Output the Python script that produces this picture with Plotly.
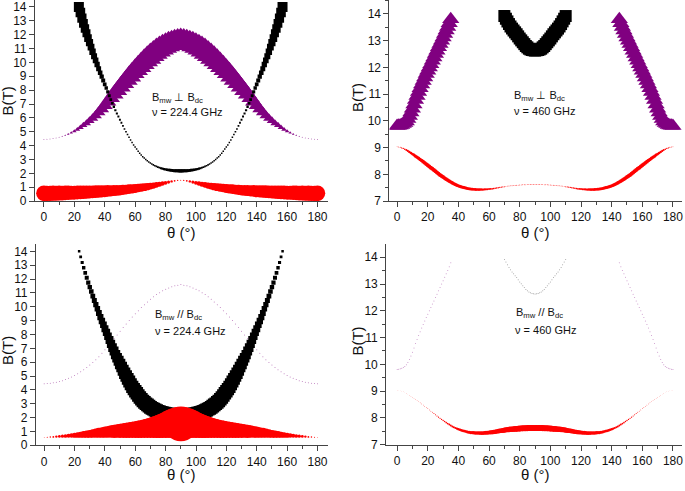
import plotly.graph_objects as go

# ---------------- data (curves are symmetric about 90 deg) ----------------
theta_even_half = list(range(0, 91, 2))      # 0..90 step 2 -> mirrored to 0..180
theta_1deg_half = list(range(0, 91))         # 0..90 step 1 -> mirrored to 0..180
theta_black_half = list(range(23, 91))       # 23..90 step 1 -> mirrored to 23..157
theta_u_half = list(range(70, 91))           # 70..90 -> 70..110
theta_out = list(range(0, 36))               # 0..35 (and mirrored 145..180)

# 224.4 GHz: black branch (V-shape) centre field, T
b224_black = [14.0, 13.6, 13.2, 12.82, 12.45, 12.1, 11.75, 11.42, 11.1, 10.77,
              10.45, 10.15, 9.85, 9.55, 9.25, 8.97, 8.7, 8.42, 8.15, 7.87,
              7.6, 7.32, 7.05, 6.8, 6.55, 6.32, 6.1, 5.87, 5.65, 5.42,
              5.2, 5.0, 4.8, 4.6, 4.4, 4.22, 4.05, 3.9, 3.75, 3.6,
              3.45, 3.32, 3.2, 3.1, 3.0, 2.91, 2.82, 2.74, 2.67, 2.61,
              2.55, 2.5, 2.45, 2.41, 2.37, 2.34, 2.31, 2.28, 2.26, 2.245,
              2.23, 2.215, 2.2, 2.195, 2.19, 2.185, 2.18, 2.18]
s224_black_perp = [10, 9.6, 9.2, 8.8, 8.4, 8.0, 7.6, 7.2, 6.8, 6.4,
                   6.0, 5.65, 5.3, 4.95, 4.6, 4.3, 4.0, 3.7, 3.4, 3.15,
                   2.9, 2.7, 2.5, 2.35, 2.2, 2.1, 2.0, 1.9, 1.8, 1.75,
                   1.7, 1.65, 1.6, 1.55,
                   1.5, 1.5, 1.5, 1.5, 1.5, 1.5, 1.5, 1.5, 1.5, 1.5, 1.5, 1.5, 1.5, 1.5,
                   1.55, 1.6, 1.65, 1.7, 1.8, 1.9, 2.0, 2.1, 2.2, 2.3,
                   2.45, 2.6, 2.7, 2.8, 2.9, 3.0, 3.05, 3.1, 3.15, 3.2]
s224_black_par = [2.5, 2.8, 3.1, 3.4, 3.7, 4.0, 4.2, 4.4, 4.6, 4.8,
                  5.0, 5.25, 5.5, 5.8, 6.1, 6.4, 6.7, 7.0, 7.3, 7.6,
                  7.9, 8.25, 8.6, 8.95, 9.3, 9.65, 10.0, 10.4, 10.7, 11.0,
                  11.25, 11.5, 11.8, 11.95, 12.1, 12.2, 12.3, 12.4,
                  12.45, 12.5, 12.5, 12.55, 12.6, 12.6, 12.65, 12.7, 12.75, 12.8,
                  12.8, 12.8, 12.85, 12.85, 12.85, 12.9, 12.9, 12.9, 12.9, 12.95,
                  12.95, 12.95, 12.95, 13, 13, 13, 13, 13, 13, 13]

# 224.4 GHz: purple branch (bell)
b224_purple = [4.45, 4.46, 4.48, 4.51, 4.55, 4.6, 4.66, 4.74, 4.83, 4.93,
               5.04, 5.17, 5.31, 5.46, 5.62, 5.79, 5.97, 6.17, 6.4, 6.64,
               6.9, 7.16, 7.43, 7.7, 7.97, 8.24, 8.5, 8.76, 9.01, 9.26,
               9.5, 9.72, 9.94, 10.15, 10.35, 10.54, 10.72, 10.88, 11.02, 11.15,
               11.26, 11.36, 11.44, 11.51, 11.56, 11.6]
s224_purple_perp = [1, 1, 1, 1, 1, 1.1, 1.3, 1.7, 2.3, 3.0,
                    4.0, 5.0, 6.0, 7.0, 8.0, 9.0, 10, 11, 12, 13,
                    14, 15, 16, 17, 18, 18.8, 19.6, 20.4, 21.1, 21.8,
                    22.4, 23, 23.5, 24, 24.4, 24.8, 25.0, 25.2, 25.3, 25.4,
                    25.5, 25.5, 25.5, 25.5, 25.5, 25.5]
s224_purple_par = [1.0] * 46

# 224.4 GHz: red branch (low field)
b224_red_perp = [0.56, 0.56, 0.56, 0.57, 0.57, 0.58, 0.58, 0.59, 0.6, 0.6,
                 0.61, 0.62, 0.63, 0.64, 0.65, 0.66, 0.67, 0.68, 0.69, 0.7,
                 0.71, 0.73, 0.74, 0.76, 0.77, 0.79, 0.81, 0.83, 0.86, 0.88,
                 0.91, 0.94, 0.97, 1.0, 1.04, 1.08, 1.12, 1.17, 1.22, 1.27,
                 1.32, 1.37, 1.42, 1.46, 1.49, 1.5]
s224_red_perp = [15.5, 15.4, 15.3, 15.2, 15.1, 15.0, 14.8, 14.6, 14.4, 14.2,
                 14.0, 13.8, 13.6, 13.4, 13.2, 13.0, 12.8, 12.6, 12.4, 12.2,
                 12.0, 11.7, 11.4, 11.1, 10.8, 10.5, 10.2, 9.9, 9.6, 9.3,
                 9.0, 8.6, 8.2, 7.8, 7.3, 6.8, 6.2, 5.6, 5.0, 4.4,
                 3.8, 3.1, 2.4, 1.8, 1.3, 1.0]
b224_red_par = [0.57, 0.58, 0.595, 0.605, 0.625, 0.64, 0.655, 0.67, 0.685, 0.705,
                0.72, 0.74, 0.76, 0.78, 0.8, 0.82, 0.845, 0.87, 0.895, 0.92,
                0.945, 0.965, 0.985, 1.005, 1.025, 1.045, 1.06, 1.08, 1.095, 1.115,
                1.13, 1.155, 1.18, 1.205, 1.23, 1.26, 1.295, 1.33, 1.37, 1.415,
                1.46, 1.515, 1.565, 1.615, 1.65, 1.545]
s224_red_par = [0.8, 1.1, 1.5, 1.8, 2.4, 2.8, 3.2, 3.7, 4.1, 4.6,
                5.1, 5.6, 6.2, 6.7, 7.3, 7.9, 8.6, 9.3, 10.0, 10.7,
                11.4, 11.9, 12.5, 13.1, 13.6, 14.2, 14.6, 15.2, 15.6, 16.2,
                16.6, 17.3, 18.0, 18.7, 19.4, 20.2, 21.2, 22.1, 23.2, 24.5,
                25.7, 27.1, 28.5, 29.9, 30.9, 34.7]

# 460 GHz
b460_purple = [9.81, 9.815, 9.83, 9.85, 9.88, 9.92, 9.98, 10.07, 10.18, 10.31,
               10.45, 10.61, 10.78, 10.93, 11.08, 11.22, 11.36, 11.49, 11.62, 11.75,
               11.87, 12.0, 12.12, 12.25, 12.37, 12.5, 12.62, 12.75, 12.87, 13.0,
               13.12, 13.25, 13.38, 13.51, 13.65, 13.8]
s460_purple_perp = [15] * 36
s460_purple_par = [1.0] * 36
b460_black = [13.92, 13.82, 13.72, 13.62, 13.53, 13.45, 13.38, 13.31, 13.24, 13.16,
              13.08, 13.01, 12.94, 12.87, 12.8, 12.75, 12.7, 12.67, 12.65, 12.64, 12.63]
s460_black_perp = [12] * 21
s460_black_par = [1.0] * 21
b460_red = [9.03, 9.025, 9.01, 8.99, 8.97, 8.94, 8.91, 8.875, 8.84, 8.8,
            8.76, 8.72, 8.68, 8.64, 8.6, 8.56, 8.52, 8.475, 8.43, 8.385,
            8.34, 8.295, 8.25, 8.205, 8.16, 8.115, 8.07, 8.025, 7.98, 7.94,
            7.9, 7.86, 7.82, 7.785, 7.75, 7.715, 7.68, 7.65, 7.62, 7.595,
            7.57, 7.55, 7.53, 7.515, 7.5, 7.485, 7.47, 7.46, 7.45, 7.445,
            7.44, 7.435, 7.43, 7.43, 7.43, 7.43, 7.43, 7.435, 7.44, 7.445,
            7.45, 7.455, 7.46, 7.47, 7.48, 7.49, 7.5, 7.51, 7.52, 7.53,
            7.54, 7.55, 7.56, 7.565, 7.57, 7.575, 7.58, 7.585, 7.59, 7.595,
            7.6, 7.605, 7.61, 7.61, 7.61, 7.615, 7.62, 7.62, 7.62, 7.62,
            7.62]
s460_red_perp = [0.8, 0.9, 1.0, 1.2, 1.4, 1.65, 1.9, 2.15, 2.4, 2.6,
                 2.8, 2.95, 3.1, 3.25, 3.4, 3.5, 3.6, 3.7, 3.8, 3.85,
                 3.9, 3.95, 4.0, 4.0, 4.0, 4.0, 4.0, 4.0, 4.0, 3.95,
                 3.9, 3.85, 3.8, 3.75, 3.7, 3.65, 3.6, 3.55, 3.5, 3.45,
                 3.4, 3.35, 3.3, 3.25, 3.2, 3.15, 3.1, 3.05, 3.0, 2.95,
                 2.9, 2.85, 2.8, 2.7, 2.6, 2.5, 2.4, 2.3, 2.2, 2.1,
                 2.0, 1.9, 1.8, 1.7, 1.6, 1.5, 1.4, 1.3, 1.2, 1.1,
                 1.0, 0.9, 0.9, 0.9, 0.9, 0.9, 0.9, 0.9, 0.9, 0.85,
                 0.85, 0.85, 0.85, 0.85, 0.8, 0.8, 0.8, 0.8, 0.8, 0.8,
                 0.8]
s460_red_par = [0.3, 0.3, 0.32, 0.34, 0.36, 0.38, 0.4, 0.42, 0.44, 0.46,
                0.48, 0.5, 0.52, 0.55, 0.58, 0.61, 0.64, 0.67, 0.7, 0.75,
                0.8, 0.85, 0.9, 0.95, 1.0, 1.05, 1.1, 1.17, 1.24, 1.32,
                1.4, 1.5, 1.6, 1.7, 1.8, 1.9, 2.0, 2.1, 2.2, 2.3,
                2.4, 2.5, 2.6, 2.7, 2.8, 2.9, 3.0, 3.1, 3.2, 3.27,
                3.35, 3.42, 3.5, 3.57, 3.65, 3.72, 3.8, 3.87, 3.95, 4.02,
                4.1, 4.2, 4.3, 4.4, 4.5, 4.6, 4.7, 4.8, 4.9, 5.0,
                5.1, 5.2, 5.3, 5.37, 5.45, 5.52, 5.6, 5.67, 5.75, 5.82,
                5.9, 5.95, 6.0, 6.05, 6.1, 6.12, 6.15, 6.17, 6.2, 6.2,
                6.2]

labels_perp = "B<sub>mw</sub> \u22a5 B<sub>dc</sub>"
labels_par = "B<sub>mw</sub> // B<sub>dc</sub>"
freq_224 = "\u03bd = 224.4 GHz"
freq_460 = "\u03bd = 460 GHz"

RED, PURPLE, BLACK = "#FF0000", "#800080", "#000000"


# ---------------- helpers: reflect the symmetric picture about 90 deg ----------------
def mirror(theta, vals):
    """theta ends at 90: reflect without repeating the 90 deg point"""
    return theta + [180 - t for t in theta[-2::-1]], vals + vals[-2::-1]


def two_sided(theta, vals):
    """branch near 0 deg and its twin near 180 deg"""
    return theta + [180 - t for t in theta[::-1]], vals + vals[::-1]


W, H = 685, 491
fig = go.Figure()


def add(ax, fn, th, b, s, color, symbol, opacity=1.0):
    xa, ya = ax
    t, y = fn(th, b)
    _, sz = fn(th, s)
    fig.add_trace(go.Scatter(x=t, y=y, mode="markers", xaxis=xa, yaxis=ya,
                             marker=dict(size=sz, color=color, symbol=symbol, opacity=opacity,
                                         line=dict(width=0)),
                             showlegend=False, hoverinfo="skip"))


# top-left: 224.4 GHz perpendicular
ax = ("x", "y")
add(ax, mirror, theta_even_half, b224_purple, s224_purple_perp, PURPLE, "triangle-up")
add(ax, mirror, theta_black_half, b224_black, s224_black_perp, BLACK, "square")
add(ax, mirror, theta_even_half, b224_red_perp, s224_red_perp, RED, "circle")

# top-right: 460 GHz perpendicular
ax = ("x2", "y2")
add(ax, two_sided, theta_out, b460_purple, s460_purple_perp, PURPLE, "triangle-up")
add(ax, mirror, theta_u_half, b460_black, s460_black_perp, BLACK, "square")
add(ax, mirror, theta_1deg_half, b460_red, s460_red_perp, RED, "circle")

# bottom-left: 224.4 GHz parallel
ax = ("x3", "y3")
add(ax, mirror, theta_even_half, b224_purple, s224_purple_par, PURPLE, "circle", 0.55)
add(ax, mirror, theta_black_half, b224_black, s224_black_par, BLACK, "square")
add(ax, mirror, theta_even_half, b224_red_par, s224_red_par, RED, "circle")

# bottom-right: 460 GHz parallel
ax = ("x4", "y4")
add(ax, two_sided, theta_out, b460_purple, s460_purple_par, PURPLE, "circle", 0.45)
add(ax, mirror, theta_u_half, b460_black, s460_black_par, BLACK, "circle", 0.4)
add(ax, mirror, theta_1deg_half, b460_red, s460_red_par, RED, "circle")

# ---------------- axes ----------------
FONT = "Liberation Sans, Arial, sans-serif"
AXC = "#444444"


def xaxis(dom, rng, anchor):
    return dict(domain=dom, range=rng, anchor=anchor, showline=True, linecolor=AXC,
                linewidth=1, ticks="outside", ticklen=5, tickcolor=AXC, tickwidth=1,
                tick0=0, dtick=20, showgrid=False, zeroline=False,
                ticklabeloverflow="allow",
                minor=dict(dtick=10, tick0=0, ticks="outside", ticklen=3, tickcolor=AXC),
                tickfont=dict(family=FONT, size=12, color="#111"), fixedrange=True)


def yaxis(dom, rng, anchor, minor):
    d = dict(domain=dom, range=rng, anchor=anchor, showline=True, linecolor=AXC,
             linewidth=1, ticks="outside", ticklen=5, tickcolor=AXC, tickwidth=1,
             tick0=0, dtick=1, showgrid=False, zeroline=False,
             ticklabeloverflow="allow",
             tickfont=dict(family=FONT, size=12, color="#111"), fixedrange=True)
    if minor:
        d["minor"] = dict(dtick=0.5, tick0=0, ticks="outside", ticklen=3, tickcolor=AXC)
    return d


fig.update_layout(
    width=W, height=H, margin=dict(l=0, r=0, t=0, b=0),
    paper_bgcolor="white", plot_bgcolor="white",
    xaxis=xaxis([35 / W, 328 / W], [-5.9, 186.6], "y"),
    yaxis=yaxis([1 - 204 / H, 1.0], [0, 14.5], "x", False),
    xaxis2=xaxis([390 / W, 683 / W], [-5.0, 185.9], "y2"),
    yaxis2=yaxis([1 - 204 / H, 1.0], [7, 14.52], "x2", True),
    xaxis3=xaxis([36 / W, 328 / W], [-5.45, 186.6], "y3"),
    yaxis3=yaxis([1 - 451.7 / H, 1 - 247.7 / H], [0, 14.52], "x3", False),
    xaxis4=xaxis([386.7 / W, 683 / W], [-7.2, 185.9], "y4"),
    yaxis4=yaxis([1 - 451 / H, 1 - 247.7 / H], [7, 14.49], "x4", True),
)


def note(px, py, text, size, angle=0, xanchor="left"):
    fig.add_annotation(x=px / W, y=1 - py / H, xref="paper", yref="paper", text=text,
                       showarrow=False, xanchor=xanchor, yanchor="middle", textangle=angle,
                       font=dict(family=FONT, size=size, color="#111"))


note(150, 99, labels_perp, 11)
note(150, 114, freq_224, 11)
note(513, 97, labels_perp, 11)
note(513, 113, freq_460, 11)
note(153, 320, labels_par, 11)
note(153, 336, freq_224, 11)
note(515, 318, labels_par, 11)
note(514, 335, freq_460, 11)

for (xc, yc) in [(181.5, 236), (536, 236), (181.5, 481), (536, 481)]:
    note(xc, yc, "\u03b8 (\u00b0)", 15, xanchor="center")
for (xc, yc) in [(8, 102), (358, 99), (8, 355), (358, 346)]:
    note(xc, yc, "B(T)", 15, angle=-90, xanchor="center")

fig.write_html("out.html", config={"displayModeBar": False},
               post_script="document.body.style.margin='0';document.body.style.overflow='hidden';")
